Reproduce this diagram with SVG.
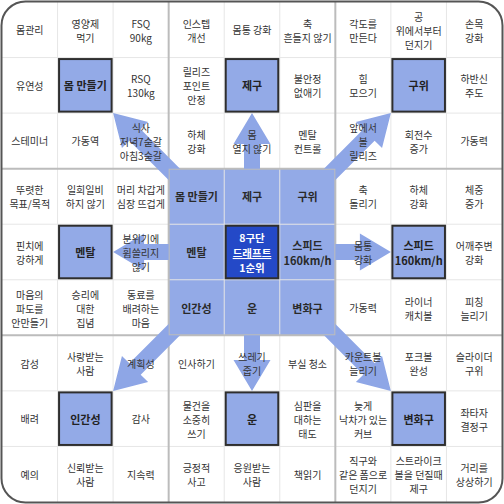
<svg xmlns="http://www.w3.org/2000/svg" width="504" height="504" viewBox="0 0 504 504">
<defs>
<style>
.t{font-family:"Noto Sans CJK KR","Noto Sans",sans-serif;font-size:10px;fill:#333;text-anchor:middle;dominant-baseline:central}
.h{font-size:11px;font-weight:700;fill:#222}
.c{font-size:11px;font-weight:600;fill:#2a2a2a}
.w{font-size:10.5px;font-weight:600;fill:#fff}
.hl{fill:#93aae7;stroke:#2e2e2e;stroke-width:2}
.fine{stroke:#e6e6e6;stroke-width:1}
.blk{stroke:#bcbcbc;stroke-width:2}
.arr{fill:#8ea6e6}
</style>
<path id="arrow" d="M0 0 L-31 -18.5 L-31 -8 L-130 -8 L-130 8 L-31 8 L-31 18.5 Z"/>
<clipPath id="outside"><path clip-rule="evenodd" d="M0 0H504V504H0Z M168.67 168.67V335.33H335.33V168.67Z"/></clipPath>
</defs>
<rect x="1.5" y="1.5" width="501" height="501" rx="24" fill="#fff"/>
<rect x="168.67" y="168.67" width="166.66" height="166.66" fill="#93aae7"/>
<g id="grid">
<path class="fine" d="M57.56 2V502M113.11 2V502M224.22 2V502M279.78 2V502M390.89 2V502M446.44 2V502M2 57.56H502M2 113.11H502M2 224.22H502M2 279.78H502M2 390.89H502M2 446.44H502"/>
<path class="blk" d="M168.67 2V502M335.33 2V502M2 168.67H502M2 335.33H502"/>
</g>
<g id="connectors" clip-path="url(#outside)">
<use href="#arrow" class="arr" transform="translate(252 113.11) rotate(-90)"/>
<use href="#arrow" class="arr" transform="translate(252 390.89) rotate(90)"/>
<use href="#arrow" class="arr" transform="translate(113.11 252) rotate(180)"/>
<use href="#arrow" class="arr" transform="translate(390.89 252)"/>
<use href="#arrow" class="arr" transform="translate(113.11 113.11) rotate(-135)"/>
<use href="#arrow" class="arr" transform="translate(390.89 113.11) rotate(-45)"/>
<use href="#arrow" class="arr" transform="translate(113.11 390.89) rotate(135)"/>
<use href="#arrow" class="arr" transform="translate(390.89 390.89) rotate(45)"/>
</g>
<rect x="1.5" y="1.5" width="501" height="501" rx="24" fill="none" stroke="#555" stroke-width="2"/>

<!-- Block TL -->
<g id="n-0-0"><text class="t" x="29.78" y="29.78">몸관리</text></g>
<g id="n-0-1"><text class="t"><tspan x="85.33" y="22.78">영양제</tspan><tspan x="85.33" y="36.78">먹기</tspan></text></g>
<g id="n-0-2"><text class="t"><tspan x="140.89" y="22.78">FSQ</tspan><tspan x="140.89" y="36.78">90kg</tspan></text></g>
<g id="n-1-0"><text class="t" x="29.78" y="85.33">유연성</text></g>
<g id="n-1-1"><rect class="hl" x="59.06" y="59.06" width="52.56" height="52.56"/><text class="t h" x="85.33" y="85.33">몸 만들기</text></g>
<g id="n-1-2"><text class="t"><tspan x="140.89" y="78.33">RSQ</tspan><tspan x="140.89" y="92.33">130kg</tspan></text></g>
<g id="n-2-0"><text class="t" x="29.78" y="140.89">스테미너</text></g>
<g id="n-2-1"><text class="t" x="85.33" y="140.89">가동역</text></g>
<g id="n-2-2"><text class="t"><tspan x="140.89" y="126.89">식사</tspan><tspan x="140.89" y="140.89">저녁7숟갈</tspan><tspan x="140.89" y="154.89">아침3숟갈</tspan></text></g>

<!-- Block TC -->
<g id="n-0-3"><text class="t"><tspan x="196.44" y="22.78">인스텝</tspan><tspan x="196.44" y="36.78">개선</tspan></text></g>
<g id="n-0-4"><text class="t" x="252" y="29.78">몸통 강화</text></g>
<g id="n-0-5"><text class="t"><tspan x="307.56" y="22.78">축</tspan><tspan x="307.56" y="36.78">흔들지 않기</tspan></text></g>
<g id="n-1-3"><text class="t"><tspan x="196.44" y="71.33">릴리즈</tspan><tspan x="196.44" y="85.33">포인트</tspan><tspan x="196.44" y="99.33">안정</tspan></text></g>
<g id="n-1-4"><rect class="hl" x="225.72" y="59.06" width="52.56" height="52.56"/><text class="t h" x="252" y="85.33">제구</text></g>
<g id="n-1-5"><text class="t"><tspan x="307.56" y="78.33">불안정</tspan><tspan x="307.56" y="92.33">없애기</tspan></text></g>
<g id="n-2-3"><text class="t"><tspan x="196.44" y="133.89">하체</tspan><tspan x="196.44" y="147.89">강화</tspan></text></g>
<g id="n-2-4"><text class="t"><tspan x="252" y="133.89">몸</tspan><tspan x="252" y="147.89">열지 않기</tspan></text></g>
<g id="n-2-5"><text class="t"><tspan x="307.56" y="133.89">멘탈</tspan><tspan x="307.56" y="147.89">컨트롤</tspan></text></g>

<!-- Block TR -->
<g id="n-0-6"><text class="t"><tspan x="363.11" y="22.78">각도를</tspan><tspan x="363.11" y="36.78">만든다</tspan></text></g>
<g id="n-0-7"><text class="t"><tspan x="418.67" y="15.78">공</tspan><tspan x="418.67" y="29.78">위에서부터</tspan><tspan x="418.67" y="43.78">던지기</tspan></text></g>
<g id="n-0-8"><text class="t"><tspan x="474.22" y="22.78">손목</tspan><tspan x="474.22" y="36.78">강화</tspan></text></g>
<g id="n-1-6"><text class="t"><tspan x="363.11" y="78.33">힘</tspan><tspan x="363.11" y="92.33">모으기</tspan></text></g>
<g id="n-1-7"><rect class="hl" x="392.39" y="59.06" width="52.56" height="52.56"/><text class="t h" x="418.67" y="85.33">구위</text></g>
<g id="n-1-8"><text class="t"><tspan x="474.22" y="78.33">하반신</tspan><tspan x="474.22" y="92.33">주도</tspan></text></g>
<g id="n-2-6"><text class="t"><tspan x="363.11" y="126.89">앞에서</tspan><tspan x="363.11" y="140.89">볼</tspan><tspan x="363.11" y="154.89">릴리즈</tspan></text></g>
<g id="n-2-7"><text class="t"><tspan x="418.67" y="133.89">회전수</tspan><tspan x="418.67" y="147.89">증가</tspan></text></g>
<g id="n-2-8"><text class="t" x="474.22" y="140.89">가동력</text></g>

<!-- Block ML -->
<g id="n-3-0"><text class="t"><tspan x="29.78" y="189.44">뚜렷한</tspan><tspan x="29.78" y="203.44">목표/목적</tspan></text></g>
<g id="n-3-1"><text class="t"><tspan x="85.33" y="189.44">일희일비</tspan><tspan x="85.33" y="203.44">하지 않기</tspan></text></g>
<g id="n-3-2"><text class="t"><tspan x="140.89" y="189.44">머리 차갑게</tspan><tspan x="140.89" y="203.44">심장 뜨겁게</tspan></text></g>
<g id="n-4-0"><text class="t"><tspan x="29.78" y="245">핀치에</tspan><tspan x="29.78" y="259">강하게</tspan></text></g>
<g id="n-4-1"><rect class="hl" x="59.06" y="225.72" width="52.56" height="52.56"/><text class="t h" x="85.33" y="252">멘탈</text></g>
<g id="n-4-2"><text class="t"><tspan x="140.89" y="238">분위기에</tspan><tspan x="140.89" y="252">휩쓸리지</tspan><tspan x="140.89" y="266">않기</tspan></text></g>
<g id="n-5-0"><text class="t"><tspan x="29.78" y="293.56">마음의</tspan><tspan x="29.78" y="307.56">파도를</tspan><tspan x="29.78" y="321.56">안만들기</tspan></text></g>
<g id="n-5-1"><text class="t"><tspan x="85.33" y="293.56">승리에</tspan><tspan x="85.33" y="307.56">대한</tspan><tspan x="85.33" y="321.56">집념</tspan></text></g>
<g id="n-5-2"><text class="t"><tspan x="140.89" y="293.56">동료를</tspan><tspan x="140.89" y="307.56">배려하는</tspan><tspan x="140.89" y="321.56">마음</tspan></text></g>

<!-- Center block -->
<g id="n-3-3"><text class="t c" x="196.44" y="196.44">몸 만들기</text></g>
<g id="n-3-4"><text class="t c" x="252" y="196.44">제구</text></g>
<g id="n-3-5"><text class="t c" x="307.56" y="196.44">구위</text></g>
<g id="n-4-3"><text class="t c" x="196.44" y="252">멘탈</text></g>
<g id="n-4-4"><rect x="225.72" y="225.72" width="52.56" height="52.56" fill="#2449c7" stroke="#2e2e2e" stroke-width="2"/><text class="t w"><tspan x="252" y="237">8구단</tspan><tspan x="252" y="252" text-decoration="underline">드래프트</tspan><tspan x="252" y="267">1순위</tspan></text></g>
<g id="n-4-5"><text class="t c"><tspan x="307.56" y="244.5">스피드</tspan><tspan x="307.56" y="259.5">160km/h</tspan></text></g>
<g id="n-5-3"><text class="t c" x="196.44" y="307.56">인간성</text></g>
<g id="n-5-4"><text class="t c" x="252" y="307.56">운</text></g>
<g id="n-5-5"><text class="t c" x="307.56" y="307.56">변화구</text></g>

<!-- Block MR -->
<g id="n-3-6"><text class="t"><tspan x="363.11" y="189.44">축</tspan><tspan x="363.11" y="203.44">돌리기</tspan></text></g>
<g id="n-3-7"><text class="t"><tspan x="418.67" y="189.44">하체</tspan><tspan x="418.67" y="203.44">강화</tspan></text></g>
<g id="n-3-8"><text class="t"><tspan x="474.22" y="189.44">체중</tspan><tspan x="474.22" y="203.44">증가</tspan></text></g>
<g id="n-4-6"><text class="t"><tspan x="363.11" y="245">몸통</tspan><tspan x="363.11" y="259">강화</tspan></text></g>
<g id="n-4-7"><rect class="hl" x="392.39" y="225.72" width="52.56" height="52.56"/><text class="t h"><tspan x="418.67" y="244.5">스피드</tspan><tspan x="418.67" y="259.5">160km/h</tspan></text></g>
<g id="n-4-8"><text class="t"><tspan x="474.22" y="245">어깨주변</tspan><tspan x="474.22" y="259">강화</tspan></text></g>
<g id="n-5-6"><text class="t" x="363.11" y="307.56">가동력</text></g>
<g id="n-5-7"><text class="t"><tspan x="418.67" y="300.56">라이너</tspan><tspan x="418.67" y="314.56">캐치볼</tspan></text></g>
<g id="n-5-8"><text class="t"><tspan x="474.22" y="300.56">피칭</tspan><tspan x="474.22" y="314.56">늘리기</tspan></text></g>

<!-- Block BL -->
<g id="n-6-0"><text class="t" x="29.78" y="363.11">감성</text></g>
<g id="n-6-1"><text class="t"><tspan x="85.33" y="356.11">사랑받는</tspan><tspan x="85.33" y="370.11">사람</tspan></text></g>
<g id="n-6-2"><text class="t" x="140.89" y="363.11">계획성</text></g>
<g id="n-7-0"><text class="t" x="29.78" y="418.67">배려</text></g>
<g id="n-7-1"><rect class="hl" x="59.06" y="392.39" width="52.56" height="52.56"/><text class="t h" x="85.33" y="418.67">인간성</text></g>
<g id="n-7-2"><text class="t" x="140.89" y="418.67">감사</text></g>
<g id="n-8-0"><text class="t" x="29.78" y="474.22">예의</text></g>
<g id="n-8-1"><text class="t"><tspan x="85.33" y="467.22">신뢰받는</tspan><tspan x="85.33" y="481.22">사람</tspan></text></g>
<g id="n-8-2"><text class="t" x="140.89" y="474.22">지속력</text></g>

<!-- Block BC -->
<g id="n-6-3"><text class="t" x="196.44" y="363.11">인사하기</text></g>
<g id="n-6-4"><text class="t"><tspan x="252" y="356.11">쓰레기</tspan><tspan x="252" y="370.11">줍기</tspan></text></g>
<g id="n-6-5"><text class="t" x="307.56" y="363.11">부실 청소</text></g>
<g id="n-7-3"><text class="t"><tspan x="196.44" y="404.67">물건을</tspan><tspan x="196.44" y="418.67">소중히</tspan><tspan x="196.44" y="432.67">쓰기</tspan></text></g>
<g id="n-7-4"><rect class="hl" x="225.72" y="392.39" width="52.56" height="52.56"/><text class="t h" x="252" y="418.67">운</text></g>
<g id="n-7-5"><text class="t"><tspan x="307.56" y="404.67">심판을</tspan><tspan x="307.56" y="418.67">대하는</tspan><tspan x="307.56" y="432.67">태도</tspan></text></g>
<g id="n-8-3"><text class="t"><tspan x="196.44" y="467.22">긍정적</tspan><tspan x="196.44" y="481.22">사고</tspan></text></g>
<g id="n-8-4"><text class="t"><tspan x="252" y="467.22">응원받는</tspan><tspan x="252" y="481.22">사람</tspan></text></g>
<g id="n-8-5"><text class="t" x="307.56" y="474.22">책읽기</text></g>

<!-- Block BR -->
<g id="n-6-6"><text class="t"><tspan x="363.11" y="356.11">카운트볼</tspan><tspan x="363.11" y="370.11">늘리기</tspan></text></g>
<g id="n-6-7"><text class="t"><tspan x="418.67" y="356.11">포크볼</tspan><tspan x="418.67" y="370.11">완성</tspan></text></g>
<g id="n-6-8"><text class="t"><tspan x="474.22" y="356.11">슬라이더</tspan><tspan x="474.22" y="370.11">구위</tspan></text></g>
<g id="n-7-6"><text class="t"><tspan x="363.11" y="404.67">늦게</tspan><tspan x="363.11" y="418.67">낙차가 있는</tspan><tspan x="363.11" y="432.67">커브</tspan></text></g>
<g id="n-7-7"><rect class="hl" x="392.39" y="392.39" width="52.56" height="52.56"/><text class="t h" x="418.67" y="418.67">변화구</text></g>
<g id="n-7-8"><text class="t"><tspan x="474.22" y="411.67">좌타자</tspan><tspan x="474.22" y="425.67">결정구</tspan></text></g>
<g id="n-8-6"><text class="t"><tspan x="363.11" y="460.22">직구와</tspan><tspan x="363.11" y="474.22">같은 폼으로</tspan><tspan x="363.11" y="488.22">던지기</tspan></text></g>
<g id="n-8-7"><text class="t"><tspan x="418.67" y="460.22">스트라이크</tspan><tspan x="418.67" y="474.22">볼을 던질때</tspan><tspan x="418.67" y="488.22">제구</tspan></text></g>
<g id="n-8-8"><text class="t"><tspan x="474.22" y="467.22">거리를</tspan><tspan x="474.22" y="481.22">상상하기</tspan></text></g>
</svg>
